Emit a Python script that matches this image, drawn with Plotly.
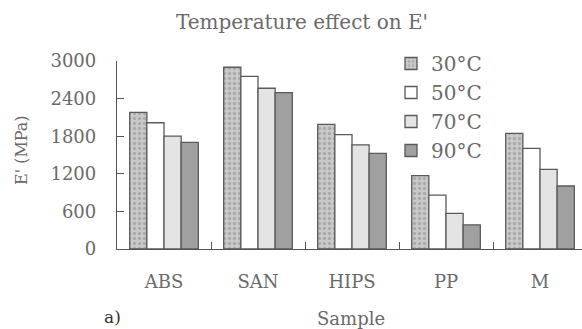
import plotly.graph_objects as go

samples = ["ABS", "SAN", "HIPS", "PP", "M"]
series_names = ["30°C", "50°C", "70°C", "90°C"]
e_30 = [2180, 2900, 1990, 1170, 1845]
e_50 = [2015, 2755, 1825, 860, 1605]
e_70 = [1800, 2565, 1660, 570, 1270]
e_90 = [1700, 2495, 1525, 385, 1005]
y_ticks = [0, 600, 1200, 1800, 2400, 3000]

values = [e_30, e_50, e_70, e_90]
fills = ["#c4c4c4", "#ffffff", "#e4e4e4", "#a0a0a0"]
FONT = "DejaVu Serif"
GRAY = "#6a6a6a"

fig = go.Figure()
for i, (name, vals) in enumerate(zip(series_names, values)):
    marker = dict(color=fills[i], line=dict(color="#5a5a5a", width=1.3))
    if i == 0:
        marker["pattern"] = dict(shape=".", fgcolor="#8a8a8a", bgcolor="#cacaca", size=5, solidity=0.35)
    fig.add_trace(go.Bar(x=samples, y=vals, name=name, marker=marker))

W, H = 582, 329
L, T, B = 117, 61, 80
plot_w = W - L
plot_h = H - T - B
cat_w = 94


def px_x(px):
    return (px - L) / plot_w


def px_y(py):
    return (H - B - py) / plot_h


fig.update_layout(
    width=W, height=H,
    margin=dict(l=L, r=0, t=T, b=B),
    paper_bgcolor="white", plot_bgcolor="white",
    barmode="group", bargap=0.27, bargroupgap=0,
    font=dict(family=FONT, color=GRAY, size=18),
    title=dict(text="Temperature effect on E'", x=302 / W, xanchor="center",
               y=1 - 22 / H, yanchor="middle", font=dict(size=20, family=FONT, color=GRAY)),
    showlegend=True,
    legend=dict(x=px_x(391), xanchor="left", y=px_y(44), yanchor="top",
                font=dict(size=20, family=FONT, color=GRAY), bgcolor="rgba(0,0,0,0)",
                itemwidth=30, tracegroupgap=0),
    xaxis=dict(range=[-0.5, -0.5 + plot_w / cat_w], showline=True, linecolor="#555",
               linewidth=1.3, ticks="inside", tickson="boundaries", ticklen=7, tickcolor="#555",
               tickfont=dict(size=18, family=FONT, color=GRAY), showgrid=False,
               ticklabelstandoff=16),
    yaxis=dict(range=[0, 3000], tickvals=y_ticks, showline=True, linecolor="#555", linewidth=1.3,
               ticks="inside", ticklen=7, tickcolor="#555", showgrid=False, zeroline=False,
               tickfont=dict(size=18, family=FONT, color=GRAY), ticklabelstandoff=16),
)
fig.add_annotation(text="Sample", xref="paper", yref="paper", x=px_x(351), y=px_y(318),
                   xanchor="center", yanchor="middle", showarrow=False,
                   font=dict(size=18, family=FONT, color=GRAY))
fig.add_annotation(text="E' (MPa)", xref="paper", yref="paper", x=px_x(21), y=px_y(150),
                   xanchor="center", yanchor="middle", textangle=-90, showarrow=False,
                   font=dict(size=16, family=FONT, color=GRAY))
fig.add_annotation(text="a)", xref="paper", yref="paper", x=px_x(112), y=px_y(H),
                   xanchor="center", yanchor="bottom", showarrow=False,
                   font=dict(size=17, family=FONT, color="#333"))
fig.write_html("out.html")
